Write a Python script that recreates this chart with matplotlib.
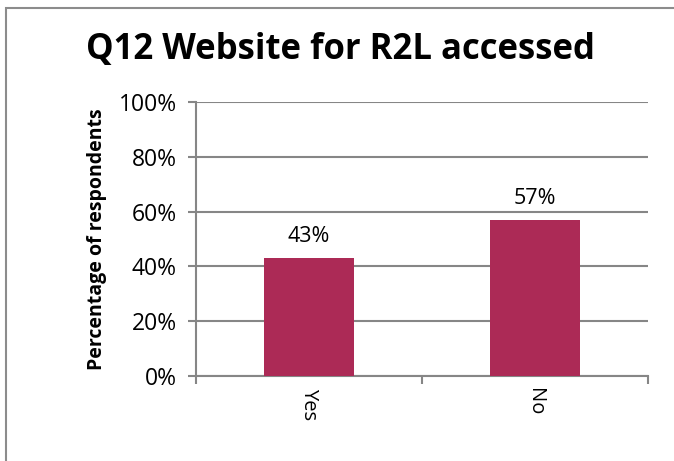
import matplotlib
matplotlib.use('Agg')
import matplotlib.pyplot as plt
from matplotlib.patches import Rectangle
from matplotlib.ticker import PercentFormatter

categories = ['Yes', 'No']
values = [43, 57]
yticks = [0, 20, 40, 60, 80, 100]

bar_color = '#AC2A56'
grid_color = '#868686'

plt.rcParams['font.family'] = ['Open Sans', 'DejaVu Sans']

fig = plt.figure(figsize=(6.74, 4.61), dpi=100)
W, H = 674, 461
ax = fig.add_axes([196 / W, 1 - 376 / H, (648 - 196) / W, (376 - 102) / H])

# outer chart frame (top and left edges visible)
fig.add_artist(Rectangle((6 / W, -0.05), 1.1, 1 - 8 / H + 0.05, transform=fig.transFigure,
                         fill=False, edgecolor='#8c8c8c', linewidth=1.5))

x = range(len(categories))
ax.bar(x, values, width=0.4, color=bar_color, zorder=3)
for xi, v in zip(x, values):
    ax.text(xi, v + 4, f'{v}%', ha='center', va='bottom', fontsize=15.5)

ax.set_xlim(-0.5, len(categories) - 0.5)
ax.set_ylim(0, 100)
ax.set_yticks(yticks)
ax.yaxis.set_major_formatter(PercentFormatter(decimals=0))
ax.set_xticks(x)
ax.set_xticklabels(categories, rotation=-90, fontsize=14.5)
ax.set_xticks([-0.5, 0.5, 1.5], minor=True)
ax.tick_params(axis='x', which='major', length=0, pad=9)
ax.tick_params(axis='x', which='minor', length=6, color=grid_color, width=1.5)
ax.tick_params(axis='y', length=6, color=grid_color, width=1.5, labelsize=16.5, pad=8)

ax.grid(axis='y', color=grid_color, linewidth=1.5, zorder=0)
for s in ['top', 'right']:
    ax.spines[s].set_visible(False)
for s in ['left', 'bottom']:
    ax.spines[s].set_color(grid_color)
    ax.spines[s].set_linewidth(1.5)

ax.set_ylabel('Percentage of respondents', fontsize=14, fontweight='bold', labelpad=8)
fig.text(341 / W, 1 - 50 / H, 'Q12 Website for R2L accessed', ha='center', va='center',
         fontsize=25, fontweight='bold')

fig.savefig('out.png', dpi=100)
